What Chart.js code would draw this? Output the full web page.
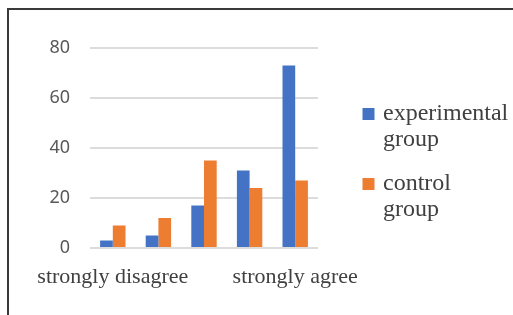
<!DOCTYPE html>
<html>
<head>
<meta charset="utf-8">
<script src="https://cdn.jsdelivr.net/npm/chart.js@4/dist/chart.umd.min.js"></script>
<style>
  html, body { margin: 0; padding: 0; background: #fff; overflow: hidden; }
  #wrap { position: relative; width: 513px; height: 315px; }
  #frame { position: absolute; left: 7px; top: 8px; width: 600px; height: 400px;
           border-left: 2px solid #3a3a3a; border-top: 2px solid #3a3a3a; }
  canvas { position: absolute; left: 0; top: 0; }
</style>
</head>
<body>
<div id="wrap">
  <div id="frame"></div>
  <canvas id="chart" width="513" height="315"></canvas>
</div>
<script>
// 데이터
var categories = ['strongly disagree', '', '', '', 'strongly agree'];
var seriesNames = ['experimental group', 'control group'];
var experimental = [3, 5, 17, 31, 73];
var control = [9, 12, 35, 24, 27];
var yTicks = [0, 20, 40, 60, 80];

var serif = '"Liberation Serif", "Times New Roman", serif';

function drawChart() {
  var ctx = document.getElementById('chart').getContext('2d');
  return new Chart(ctx, {
    type: 'bar',
    data: {
      labels: categories,
      datasets: [{
        label: seriesNames[0],
        data: experimental,
        backgroundColor: '#4472C4'
      }, {
        label: seriesNames[1],
        data: control,
        backgroundColor: '#ED7D31'
      }]
    },
    options: {
      responsive: false,
      animation: false,
      datasets: {
        bar: { categoryPercentage: 0.557, barPercentage: 1.0, borderWidth: 0 }
      },
      layout: {
        padding: { left: 46, right: 0, top: 48, bottom: 7 }
      },
      scales: {
        x: {
          grid: { display: false },
          border: { display: false },
          ticks: {
            autoSkip: false,
            maxRotation: 0,
            minRotation: 0,
            padding: 8,
            color: '#404040',
            font: { family: serif, size: 22 }
          },
          afterFit: function(scale) {
            scale.height = 60;
            scale.paddingLeft = 0;
            scale.paddingRight = 0;
          }
        },
        y: {
          min: 0,
          max: 80,
          afterBuildTicks: function(scale) {
            scale.ticks = yTicks.map(function(v) { return { value: v }; });
          },
          grid: { color: '#dcdcdc', lineWidth: 2, drawTicks: false },
          border: { display: false },
          ticks: {
            padding: 20,
            color: '#595959',
            font: { family: '"Noto Sans", sans-serif', size: 18 }
          },
          afterFit: function(scale) {
            scale.width = 44;
            scale.paddingTop = 0;
            scale.paddingBottom = 0;
          }
        },
        // 범례 앞 여백용
        gap: {
          position: 'right',
          grid: { display: false },
          border: { display: false },
          ticks: { display: false },
          afterFit: function(scale) { scale.width = 30; }
        }
      },
      plugins: {
        tooltip: { enabled: false },
        legend: {
          position: 'right',
          align: 'start',
          maxWidth: 165,
          // 빈 제목으로 범례 위치 내림
          title: { display: true, text: '', padding: 0, font: { size: 36, lineHeight: 1 } },
          labels: {
            usePointStyle: true,
            pointStyle: 'rect',
            boxWidth: 5,
            boxHeight: 12,
            padding: 18,
            color: '#404040',
            font: { family: serif, size: 24, lineHeight: 26 / 24 },
            generateLabels: function(chart) {
              return Chart.defaults.plugins.legend.labels.generateLabels(chart).map(function(item) {
                item.text = item.text.split(' ');
                item.lineWidth = 0;
                item.pointStyle = 'rect';
                return item;
              });
            }
          }
        }
      }
    }
  });
}

Promise.all([
  document.fonts.load('22px "Liberation Serif"'),
  document.fonts.load('18px "Noto Sans"')
]).then(drawChart, drawChart);
</script>
</body>
</html>
